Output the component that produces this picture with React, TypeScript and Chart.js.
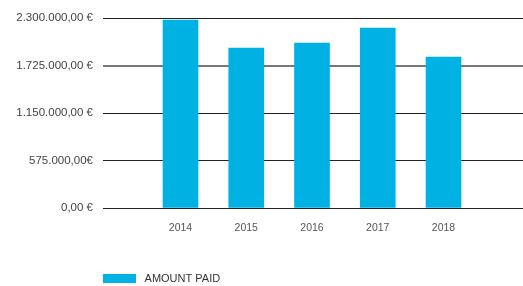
import React, { useEffect, useRef } from "react";
import { Chart, registerables } from "chart.js";

Chart.register(...registerables);

const years = [2014, 2015, 2016, 2017, 2018];
const amountPaid = [2275000, 1937000, 1997000, 2179000, 1828000];
const yTickValues = [0, 575000, 1150000, 1725000, 2300000];
const yTickLabels = ["0,00 €", "575.000,00€", "1.150.000,00 €", "1.725.000,00 €", "2.300.000,00 €"];
const seriesLabel = "AMOUNT PAID";

const FONT = "'Liberation Sans', Arial, Helvetica, sans-serif";

const legendShift = {
  id: "legendShift",
  afterLayout(chart: any) {
    const lg = chart.legend;
    if (lg) {
      lg.left = chart.chartArea.left - lg.options.labels.padding;
    }
  },
};

export default function App() {
  const ref = useRef<HTMLCanvasElement | null>(null);
  useEffect(() => {
    if (!ref.current) return;
    const chart = new Chart(ref.current, {
      type: "bar",
      data: {
        datasets: [
          {
            label: seriesLabel,
            data: years.map((y, i) => ({ x: y, y: amountPaid[i] })),
            backgroundColor: "#00b2e3",
            borderWidth: 0,
            barThickness: 35,
          },
        ],
      },
      options: {
        animation: false,
        responsive: false,
        devicePixelRatio: 1,
        layout: { padding: { top: 18, left: 0, right: 0, bottom: 0 } },
        plugins: {
          tooltip: { enabled: false },
          legend: {
            position: "bottom",
            align: "start",
            labels: {
              boxWidth: 33,
              boxHeight: 9,
              padding: 10,
              color: "#333",
              font: { family: FONT, size: 11 },
              generateLabels: (chart: any) =>
                Chart.defaults.plugins.legend.labels
                  .generateLabels(chart)
                  .map((l: any) => ({ ...l, text: " " + l.text })),
            },
          },
        },
        scales: {
          x: {
            type: "linear",
            offset: false,
            min: 2012.821,
            max: 2019.209,
            grid: { display: false },
            border: { display: false },
            afterBuildTicks: (scale: any) => {
              scale.ticks = years.map((v) => ({ value: v }));
            },
            afterFit: (scale: any) => {
              scale.height = 55;
            },
            ticks: {
              padding: 6,
              maxRotation: 0,
              color: "#555",
              font: { family: FONT, size: 10.5 },
              callback: (v: any) => String(v),
            },
          },
          y: {
            min: 0,
            max: 2300000,
            border: { display: false },
            afterBuildTicks: (scale: any) => {
              scale.ticks = yTickValues.map((v) => ({ value: v }));
            },
            afterFit: (scale: any) => {
              scale.width = 103;
            },
            grid: {
              drawTicks: false,
              color: (ctx: any) => (ctx.tick && ctx.tick.value === 1725000 ? "#777" : "#222"),
              lineWidth: (ctx: any) => (ctx.tick && ctx.tick.value === 1725000 ? 2 : 1),
            },
            ticks: {
              padding: 10,
              color: "#444",
              font: { family: FONT, size: 11.5 },
              callback: (v: any) => {
                const i = yTickValues.indexOf(Number(v));
                return i >= 0 ? yTickLabels[i] : "";
              },
            },
          },
        },
      },
      plugins: [legendShift],
    } as any);
    return () => chart.destroy();
  }, []);
  return (
    <div style={{ position: "fixed", left: 0, top: 0, width: 523, height: 286, overflow: "hidden", background: "#fff" }}>
      <canvas ref={ref} width={523} height={294} style={{ display: "block" }} />
    </div>
  );
}
